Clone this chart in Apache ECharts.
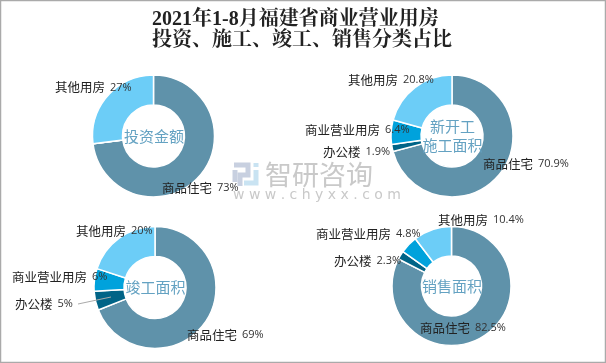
<!DOCTYPE html>
<html><head><meta charset="utf-8">
<style>html,body{margin:0;padding:0;background:#fff}#c{width:606px;height:363px}</style>
<script src="https://cdn.jsdelivr.net/npm/echarts@6/dist/echarts.min.js"></script>
</head><body><div id="c"></div>
<script>
const titleLines = ['2021年1-8月福建省商业营业用房', '投资、施工、竣工、销售分类占比'];
const categories = ['商品住宅', '办公楼', '商业营业用房', '其他用房'];
const colors = ['#5f92aa', '#006487', '#00a2dc', '#6ccdf7'];
const investment = [73, 0, 0, 27];
const newStart = [70.9, 1.9, 6.4, 20.8];
const completed = [69, 5, 6, 20];
const sales = [82.5, 2.3, 4.8, 10.4];
const centerTexts = ['投资金额', '新开工\n施工面积', '竣工面积', '销售面积'];
const valueSuffix = '%';

const charts = [
  {values: investment, center: [153.5, 136], r: [31, 61], text: centerTexts[0],
   labels: {0: [162, 188], 3: [55, 87.5]}},
  {values: newStart, center: [452, 136], r: [31, 61], text: centerTexts[1],
   labels: {0: [483, 164], 1: [323, 152], 2: [305, 130], 3: [348, 80]}},
  {values: completed, center: [155, 287.5], r: [31, 61], text: centerTexts[2],
   labels: {0: [187, 335], 1: [15, 304], 2: [12, 277], 3: [76, 231]}},
  {values: sales, center: [451.5, 286], r: [30, 59.5], text: centerTexts[3],
   labels: {0: [420, 328], 1: [334, 261], 2: [316, 234], 3: [438, 220]}}
];

const series = charts.map(c => ({
  type: 'pie', center: c.center, radius: c.r, startAngle: 90, clockwise: true, minAngle: 0,
  silent: true, animation: false, avoidLabelOverlap: false,
  itemStyle: {borderColor: '#fff', borderWidth: 1.5},
  label: {
    show: true, position: 'outside',
    formatter: p => p.value > 0 ? `{n|${p.name}}{v|${p.value}${valueSuffix}}` : '',
    rich: {
      n: {fontFamily: '"Noto Sans CJK SC"', fontSize: 12.5, color: '#222', padding: [0, 5, 0, 0]},
      v: {fontFamily: '"Open Sans"', fontSize: 11, color: '#333'}
    }
  },
  labelLine: {show: false},
  labelLayout: p => {
    const pos = c.labels[p.dataIndex];
    return pos ? {x: pos[0], y: pos[1], align: 'left', verticalAlign: 'middle'} : {};
  },
  data: categories.map((n, i) => ({name: n, value: c.values[i], itemStyle: {color: colors[i]}}))
}));

const logoBlue = '#c9e3f2', logoGrey = '#c8d0e0', markGrey = '#c9c9c9';
const option = {
  animation: false,
  backgroundColor: '#fff',
  title: {
    text: titleLines.join('\n'), left: 152, top: 9, padding: 0,
    textStyle: {fontFamily: '"Liberation Serif","Noto Serif CJK SC","Noto Sans CJK SC"', fontSize: 20, fontWeight: 'bold', color: '#222', lineHeight: 21}
  },
  graphic: [
    {type: 'rect', silent: true, z: 0, shape: {x: 0.5, y: 0.5, width: 605, height: 362}, style: {fill: 'none', stroke: '#aaa', lineWidth: 1.5}},
    {type: 'polyline', silent: true, z: 1, shape: {points: [[234, 165], [248, 165], [248, 175], [240, 175], [240, 186]]}, style: {fill: 'none', stroke: logoGrey, lineWidth: 5}},
    {type: 'polyline', silent: true, z: 1, shape: {points: [[235, 170], [235, 182]]}, style: {fill: 'none', stroke: logoGrey, lineWidth: 5}},
    {type: 'polyline', silent: true, z: 1, shape: {points: [[244, 183], [256, 183], [256, 170]]}, style: {fill: 'none', stroke: logoBlue, lineWidth: 5}},
    {type: 'rect', silent: true, z: 1, shape: {x: 253.5, y: 163, width: 5, height: 4}, style: {fill: logoBlue}},
    ...charts.map(c => ({
      type: 'text', z: 10, silent: true, x: c.center[0] + 0.5, y: c.center[1],
      style: {text: c.text, fontFamily: '"Noto Sans CJK SC"', fontSize: 15, lineHeight: 19, fill: '#64a2c2', align: 'center', verticalAlign: 'middle'}
    })),
    {type: 'line', silent: true, z: 5, shape: {x1: 78, y1: 304, x2: 111, y2: 297}, style: {stroke: '#aaa', lineWidth: 1}},
    {type: 'text', z: 1, silent: true, x: 265, y: 175, style: {text: '智研咨询', fontFamily: '"Noto Sans CJK SC"', fontSize: 27, fill: markGrey, verticalAlign: 'middle'}},
    {type: 'text', z: 1, silent: true, x: 233, y: 195, style: {text: 'w w w . c h y x x . c o m', fontFamily: '"DejaVu Sans"', fontSize: 14, fill: markGrey, verticalAlign: 'middle'}}
  ],
  series
};
echarts.init(document.getElementById('c'), null, {renderer: 'canvas'}).setOption(option);
</script></body></html>
